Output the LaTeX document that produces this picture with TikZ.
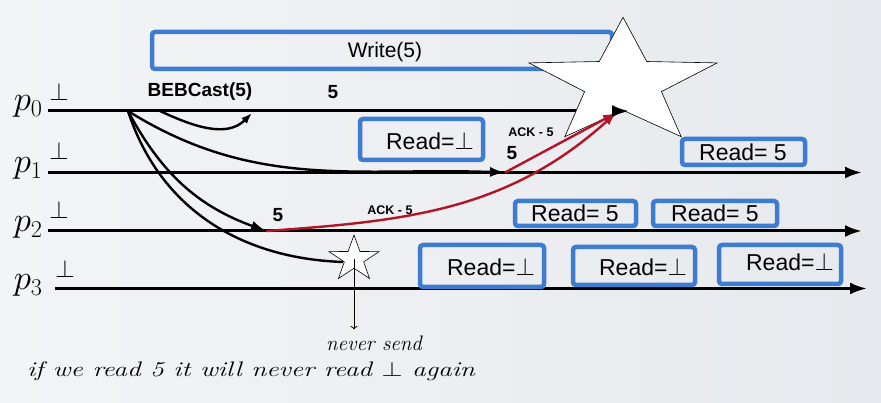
\documentclass[tikz,border=0pt]{standalone}
\usepackage{fontspec}
\setsansfont{Liberation Sans}
\usetikzlibrary{arrows.meta,shapes.geometric}
\definecolor{boxblue}{RGB}{61,124,208}
\definecolor{ackred}{RGB}{178,20,40}
\definecolor{bgleft}{RGB}{243,244,246}
\definecolor{bgright}{RGB}{230,233,237}

\begin{document}
\begin{tikzpicture}[x=1pt,y=1pt,
  timeline/.style={line width=3pt,-{Latex[length=17pt,width=12pt]}},
  msg/.style={line width=2.4pt,-{Latex[length=15pt,width=10pt]}},
  ack/.style={ackred,line width=2.4pt,-{Latex[length=13pt,width=9pt]}},
  readbox/.style={boxblue,line width=4.5pt,rounded corners=3pt},
  readtxt/.style={font=\sffamily\fontsize{23}{26}\selectfont,inner sep=0pt},
  proc/.style={font=\fontsize{24}{28}\selectfont,scale=1.4,anchor=base east,inner sep=0pt},
  init/.style={font=\fontsize{24}{28}\selectfont,inner sep=0pt},
  val/.style={font=\sffamily\bfseries\fontsize{19}{22}\selectfont,inner sep=0pt},
  acklabel/.style={font=\sffamily\bfseries\fontsize{12.5}{14}\selectfont,inner sep=0pt},
  note/.style={font=\itshape\fontsize{21}{24}\selectfont,inner sep=0pt},
  starmark/.style={star,star points=5,draw,fill=white,line width=0.6pt,inner sep=0pt}]

  \shade[left color=bgleft,right color=bgright] (0,0) rectangle (881,403);

  % the write operation
  \draw[readbox] (152,371) rectangle (612,334);
  \node[readtxt,font=\sffamily\fontsize{21}{24}\selectfont] (write) at (385,351) {Write(5)};

  % processes
  \node[proc] (p0) at (43,292) {$p_0$};
  \node[proc] (p1) at (43,230) {$p_1$};
  \node[proc] (p2) at (43,171) {$p_2$};
  \node[proc] (p3) at (43,113) {$p_3$};

  \node[init] (b0) at (59,311) {$\bot$};
  \node[init] (b1) at (59,252) {$\bot$};
  \node[init] (b2) at (59,193) {$\bot$};
  \node[init] (b3) at (65,134) {$\bot$};

  \coordinate (s0) at (48,292);
  \coordinate (s1) at (48,230.5);
  \coordinate (s2) at (48,172);
  \coordinate (s3) at (55,114.5);
  \coordinate (e0) at (629,292);
  \coordinate (e1) at (862,230.5);
  \coordinate (e2) at (862,172);
  \coordinate (e3) at (867,114.5);

  \draw[timeline] (s0) -- (e0);
  \draw[timeline] (s1) -- (e1);
  \draw[timeline] (s2) -- (e2);
  \draw[timeline] (s3) -- (e3);

  % broadcast
  \coordinate (bcast) at (128,292);
  \coordinate (self0) at (160,292);
  \coordinate (self1) at (252,290);
  \coordinate (d1) at (505,230.5);
  \coordinate (d2) at (266,172);
  \coordinate (d3) at (343,141);
  \coordinate (acktip) at (616,290);

  \node[val] (bebcast) at (200,311) {BEBCast(5)};
  \node[val] (v0) at (333,311) {5};
  \node[val] (v1) at (512,250) {5};
  \node[val] (v2) at (278,188) {5};

  \draw[msg,-{Latex[length=11pt,width=8pt]}] (self0) to[out=-25,in=225] (self1);
  \draw[msg] (bcast) to[out=-32,in=178] (d1);
  \draw[msg] (bcast) to[out=-62,in=160] (d2);
  \draw[line width=2.4pt] (bcast) to[out=-72,in=178] (d3);

  % stars
  \node[starmark,minimum size=132pt,star point ratio=2.45,xscale=1.5] (bigstar) at (623,319.7) {};
  \node[starmark,minimum size=48pt,star point ratio=2.6,xscale=1.1] (crash) at (354,144) {};

  % acks
  \draw[ack] (d2) to[out=4,in=-138] (acktip);
  \draw[ack] (d1) -- (acktip);
  \node[acklabel] (ack1) at (531,271) {ACK - 5};
  \node[acklabel] (ack2) at (390,193) {ACK - 5};
  \draw[timeline] (617,292) -- (e0);

  % reads
  \draw[readbox] (360,284) rectangle (483,243);
  \node[readtxt] (r1) at (430,262) {Read=$\bot$};
  \draw[readbox] (682,264) rectangle (805,238);
  \node[readtxt] (r2) at (743,251) {Read= 5};
  \draw[readbox] (515,202) rectangle (636,177);
  \node[readtxt] (r3) at (575,190) {Read= 5};
  \draw[readbox] (653,202) rectangle (777,177);
  \node[readtxt] (r4) at (715,190) {Read= 5};
  \draw[readbox] (420,158) rectangle (544,116);
  \node[readtxt] (r5) at (491,136) {Read=$\bot$};
  \draw[readbox] (573,156) rectangle (695,118);
  \node[readtxt] (r6) at (643,136) {Read=$\bot$};
  \draw[readbox] (719,158) rectangle (841,119);
  \node[readtxt] (r7) at (790,141) {Read=$\bot$};

  % notes
  \node[note] (never) at (374,60) {never send};
  \node[note,xscale=1.3] (again) at (251,32) {if we read 5 it will never read $\bot$ again};
  \draw[line width=0.8pt,->] (crash.center) -- ([yshift=6pt]crash.center |- never.north);
\end{tikzpicture}
\end{document}
